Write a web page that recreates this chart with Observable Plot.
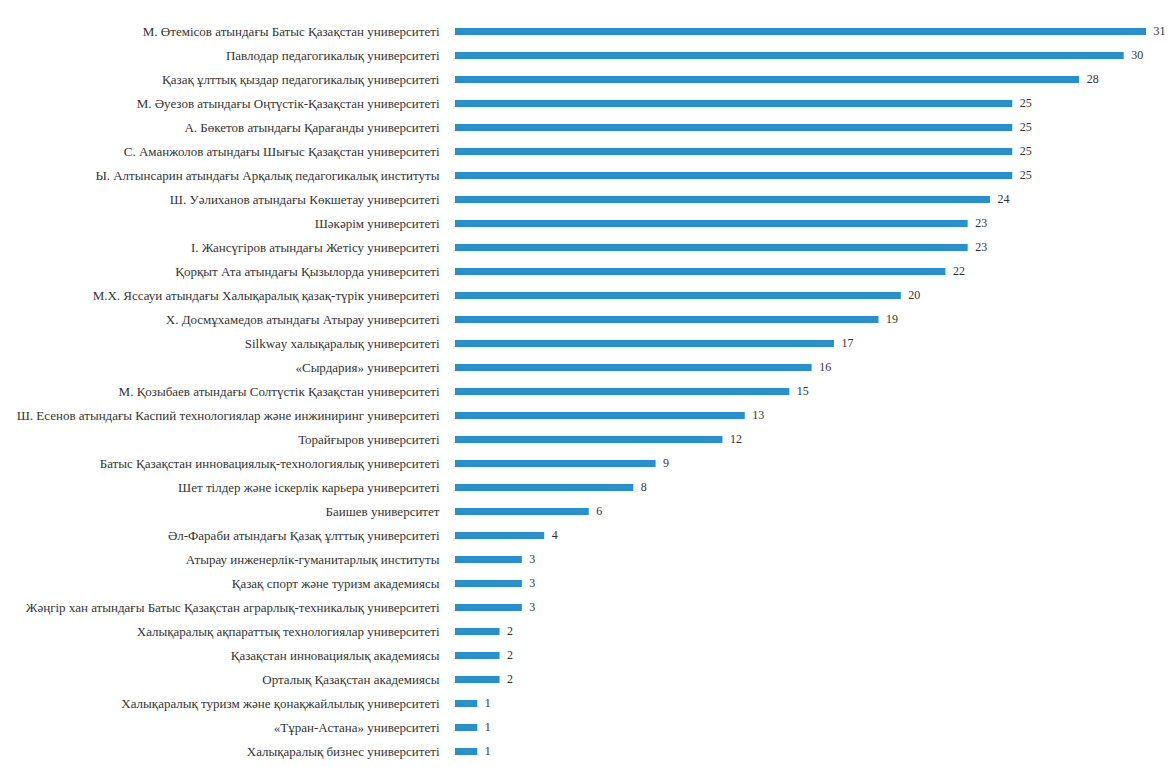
<!DOCTYPE html>
<html>
<head>
<meta charset="utf-8">
<script src="https://cdn.jsdelivr.net/npm/d3@7"></script>
<script src="https://cdn.jsdelivr.net/npm/@observablehq/plot@0.6"></script>
<style>
  html, body { margin: 0; padding: 0; background: #fff; }
  #chart svg { display: block; }
  #chart svg text { font-family: "Liberation Serif", "DejaVu Serif", serif; }
</style>
</head>
<body>
<div id="chart"></div>
<script>
const universities = [
  "М. Өтемісов атындағы Батыс Қазақстан университеті",
  "Павлодар педагогикалық университеті",
  "Қазақ ұлттық қыздар педагогикалық университеті",
  "М. Әуезов атындағы Оңтүстік-Қазақстан университеті",
  "А. Бөкетов атындағы Қарағанды университеті",
  "С. Аманжолов атындағы Шығыс Қазақстан университеті",
  "Ы. Алтынсарин атындағы Арқалық педагогикалық институты",
  "Ш. Уәлиханов атындағы Көкшетау университеті",
  "Шәкәрім университеті",
  "І. Жансүгіров атындағы Жетісу университеті",
  "Қорқыт Ата атындағы Қызылорда университеті",
  "М.Х. Яссауи атындағы Халықаралық қазақ-түрік университеті",
  "Х. Досмұхамедов атындағы Атырау университеті",
  "Silkway халықаралық университеті",
  "«Сырдария» университеті",
  "М. Қозыбаев атындағы Солтүстік Қазақстан университеті",
  "Ш. Есенов атындағы Каспий технологиялар және инжиниринг университеті",
  "Торайғыров университеті",
  "Батыс Қазақстан инновациялық-технологиялық университеті",
  "Шет тілдер және іскерлік карьера университеті",
  "Баишев университет",
  "Әл-Фараби атындағы Қазақ ұлттық университеті",
  "Атырау инженерлік-гуманитарлық институты",
  "Қазақ спорт және туризм академиясы",
  "Жәңгір хан атындағы Батыс Қазақстан аграрлық-техникалық университеті",
  "Халықаралық ақпараттық технологиялар университеті",
  "Қазақстан инновациялық академиясы",
  "Орталық Қазақстан академиясы",
  "Халықаралық туризм және қонақжайлылық университеті",
  "«Тұран-Астана» университеті",
  "Халықаралық бизнес университеті"
];
const counts = [31, 30, 28, 25, 25, 25, 25, 24, 23, 23, 22, 20, 19, 17, 16, 15, 13, 12, 9, 8, 6, 4, 3, 3, 3, 2, 2, 2, 1, 1, 1];

const data = universities.map((name, i) => ({ name, value: counts[i] }));

const serif = "'Liberation Serif', 'DejaVu Serif', serif";

const chart = Plot.plot({
  width: 1172,
  height: 767,
  marginLeft: 455,
  marginRight: 26,
  marginTop: 12,
  marginBottom: 0,
  style: { fontFamily: serif, background: "#fff" },
  x: { domain: [0, 31], axis: null },
  y: { type: "point", domain: universities, range: [24, 757], padding: 0, axis: null, label: null },
  marks: [
    Plot.ruleX([0], { stroke: "#e8f0f6", strokeWidth: 2, y1: universities[0], y2: universities[universities.length - 1], insetTop: -12, insetBottom: -10 }),
    Plot.ruleY(data, { y: "name", x1: 0, x2: "value", stroke: "#2b8fcc", strokeWidth: 7 }),
    Plot.axisY({ tickSize: 0, tickPadding: 16, fontSize: 13, fill: "#333", label: null, fontFamily: serif }),
    Plot.text(data, { x: "value", y: "name", text: d => String(d.value), textAnchor: "start", dx: 7, fontSize: 12, fill: "#333", fontFamily: serif })
  ]
});
document.getElementById("chart").appendChild(chart);
</script>
</body>
</html>
